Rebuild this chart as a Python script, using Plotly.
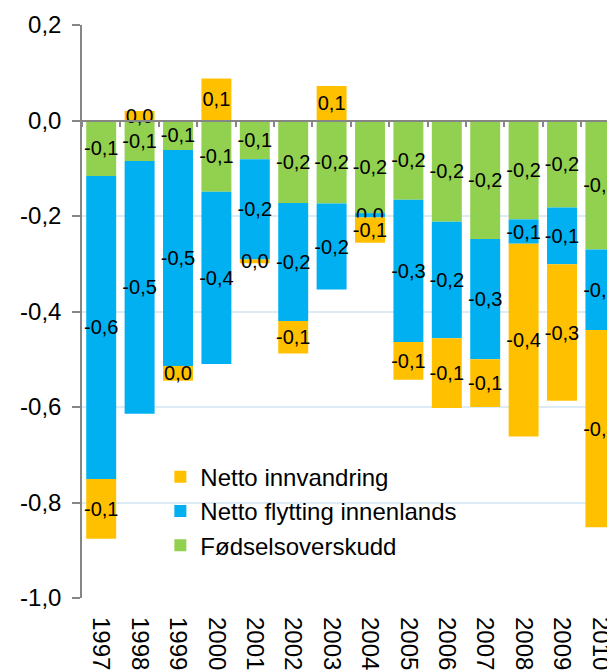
import plotly.graph_objects as go

years = ["1997", "1998", "1999", "2000", "2001", "2002", "2003",
         "2004", "2005", "2006", "2007", "2008", "2009", "2010"]
fodselsoverskudd = [-0.116, -0.085, -0.062, -0.149, -0.081, -0.173, -0.174,
                    -0.194, -0.166, -0.212, -0.248, -0.207, -0.182, -0.270]
netto_flytting = [-0.635, -0.529, -0.452, -0.361, -0.210, -0.247, -0.180,
                  -0.009, -0.298, -0.244, -0.252, -0.051, -0.119, -0.169]
netto_innvandring = [-0.125, 0.020, -0.031, 0.088, -0.008, -0.068, 0.072,
                     -0.053, -0.079, -0.146, -0.100, -0.404, -0.286, -0.413]
y_tickvals = [0.2, 0.0, -0.2, -0.4, -0.6, -0.8, -1.0]


def fmt(v):
    s = f"{v:.1f}"
    if s == "-0.0":
        s = "0.0"
    return s.replace(".", ",")


FONT = "Liberation Sans, Arial, sans-serif"

series = [
    ("Fødselsoverskudd", fodselsoverskudd, "#92D050"),
    ("Netto flytting innenlands", netto_flytting, "#00B0F0"),
    ("Netto innvandring", netto_innvandring, "#FFC000"),
]

fig = go.Figure()
for name, vals, col in series:
    fig.add_trace(go.Bar(
        x=years, y=vals, name=name,
        marker=dict(color=col, line=dict(width=0)),
        text=[fmt(v) for v in vals],
        textposition="inside", insidetextanchor="middle",
        textangle=0, constraintext="none", cliponaxis=False,
        textfont=dict(family=FONT, size=20, color="black"),
        hoverinfo="skip",
    ))

n = len(years)
xr = [-0.5, 13.38]
fig.update_layout(
    width=607, height=662,
    margin=dict(l=74, r=0, t=17, b=72),
    barmode="relative", bargap=0.22,
    plot_bgcolor="white", paper_bgcolor="white",
    font=dict(family=FONT, color="black"),
    legend=dict(
        traceorder="reversed", x=0.147, y=0.250, xanchor="left", yanchor="top",
        font=dict(size=24, family=FONT), bgcolor="rgba(0,0,0,0)",
        itemwidth=30, tracegroupgap=0,
    ),
    xaxis=dict(
        type="category", range=xr, showgrid=False, showline=False,
        ticks="", tickangle=90, tickfont=dict(size=24),
        automargin=False, ticklabelstandoff=18,
    ),
    xaxis2=dict(
        overlaying="x", anchor="free", position=1 / 1.2, side="bottom",
        range=xr, showgrid=False, showline=True, linecolor="#868686", linewidth=1.5,
        ticks="outside", ticklen=6, tickcolor="#868686", tickwidth=1.5,
        tickvals=[i - 0.5 for i in range(n + 1)], showticklabels=False,
        zeroline=False,
    ),
    yaxis=dict(
        range=[-1.0, 0.2], tickvals=y_tickvals, ticktext=[fmt(v) for v in y_tickvals],
        showgrid=True, gridcolor="#DCEBF5", gridwidth=1.5,
        showline=True, linecolor="#868686", linewidth=1.5,
        ticks="outside", ticklen=8, tickcolor="#868686", tickwidth=1.5,
        tickfont=dict(size=24), zeroline=False, automargin=False,
        ticklabelstandoff=6,
    ),
)
fig.add_trace(go.Scatter(x=[0], y=[0], xaxis="x2", mode="markers",
                         marker=dict(opacity=0), showlegend=False, hoverinfo="skip"))

fig.write_html("out.html")
